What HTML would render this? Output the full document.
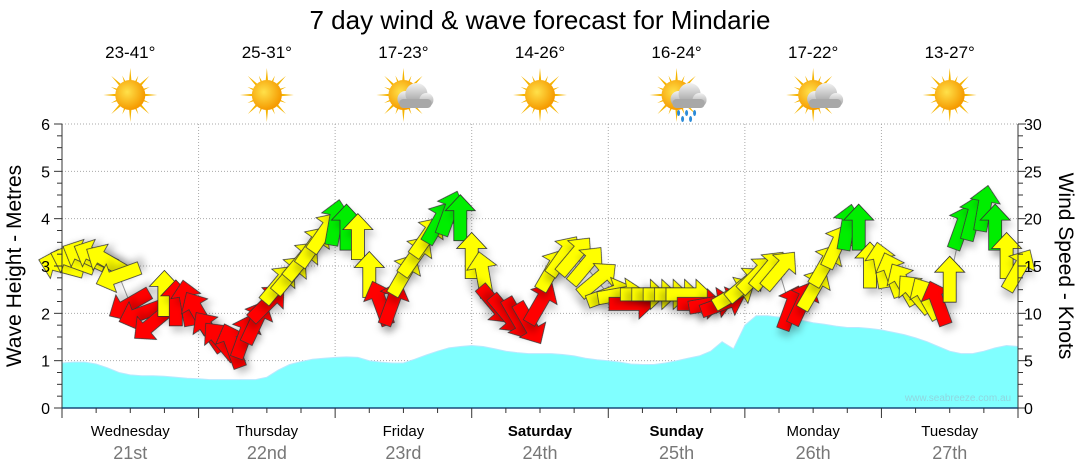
<!DOCTYPE html>
<html><head><meta charset="utf-8"><style>
html,body{margin:0;padding:0;background:#fff;}
svg{display:block;font-family:"Liberation Sans",sans-serif;}
</style></head><body>
<svg id="chart" width="1080" height="475" viewBox="0 0 1080 475">
<defs>
<filter id="sh" x="-50%" y="-50%" width="200%" height="200%"><feDropShadow dx="3" dy="6" stdDeviation="3.5" flood-color="#000" flood-opacity="0.2"/></filter>
<radialGradient id="sun" cx="40%" cy="40%" r="60%"><stop offset="0" stop-color="#ffe14a"/><stop offset="1" stop-color="#f59a00"/></radialGradient>
<linearGradient id="cl" x1="0" y1="0" x2="0" y2="1"><stop offset="0" stop-color="#f2f2f2"/><stop offset="1" stop-color="#9a9a9a"/></linearGradient>
</defs>
<text x="540" y="29" font-size="26" text-anchor="middle" fill="#000">7 day wind &amp; wave forecast for Mindarie</text>
<g id="hdr"></g>
<g id="grid"></g>
<g id="wave"></g>
<g id="wind"></g>
<g id="axes"></g>
<text x="958" y="401" font-size="10" fill="#8fd6df" text-anchor="middle">www.seabreeze.com.au</text>
<text transform="translate(21,266) rotate(-90)" font-size="21" text-anchor="middle">Wave Height - Metres</text>
<text transform="translate(1059,266) rotate(90)" font-size="21" text-anchor="middle">Wind Speed - Knots</text>
</svg>
<script>
const days=["Wednesday","Thursday","Friday","Saturday","Sunday","Monday","Tuesday"];
const dates=["21st","22nd","23rd","24th","25th","26th","27th"];
const temps=["23-41°","25-31°","17-23°","14-26°","16-24°","17-22°","13-27°"];
const icons=["sun","sun","cloud","sun","rain","cloud","sun"];
const leftTicks=[0,1,2,3,4,5,6];
const rightTicks=[0,5,10,15,20,25,30];
const windKnots=[15,15.5,16,16,15.5,14,11,10,9,12,11,11,
 10,8,7,6.5,7.5,9,11,13,14,15.5,17,18.5,
 19.5,19,18,14,11,11,14,16,18,19.5,20.5,20,
 16,14,11,10,9.5,9,11,14.5,16,16,15,13.5,
 12,12,11,12,12,12,12,12,11,11,11,12,
 13,14,14.5,14.5,10.5,11,12.5,15,17,19,19,15,
 15,14,13,12,11.5,11,13.5,19,20,21,19,16,14.5];
const windDir=[-75,-70,-65,-65,-60,-110,-120,-110,-130,0,0,-10,
 -30,-35,-40,-20,20,25,45,40,40,40,35,35,
 10,0,0,0,-20,20,30,35,35,30,20,0,
 0,-10,140,140,150,150,30,30,35,40,40,50,
 70,80,90,90,90,90,90,90,90,80,70,60,
 50,45,40,40,20,25,30,30,25,10,0,0,
 -10,-20,-30,-40,-30,-20,0,20,15,10,0,0,30];
const waveM=[.95,.97,.97,.93,.85,.75,.7,.68,.68,.67,.65,.63,
 .62,.6,.6,.6,.6,.6,.65,.8,.92,.98,1.03,1.05,
 1.07,1.08,1.07,1.0,.97,.95,.95,1.03,1.12,1.2,1.27,1.3,
 1.32,1.3,1.25,1.2,1.17,1.15,1.15,1.15,1.13,1.1,1.05,1.02,
 1.0,.97,.93,.92,.92,.95,1.0,1.05,1.1,1.2,1.4,1.25,
 1.75,1.95,1.95,1.92,1.88,1.85,1.8,1.77,1.73,1.7,1.7,1.68,
 1.65,1.6,1.55,1.48,1.4,1.3,1.2,1.15,1.15,1.2,1.27,1.32,1.3];

const NS="http://www.w3.org/2000/svg";
const X0=62,X1=1018,Y0=408,YT=124;
const xOf=i=>X0+(X1-X0)*i/(waveM.length-1);
const xW=i=>X0+(X1-X0)*i/(windKnots.length-1);
const yM=m=>Y0-(Y0-YT)*m/6;
const yK=k=>Y0-(Y0-YT)*k/30;
const dayW=(X1-X0)/7;
function mk(tag,attrs,parent){const e=document.createElementNS(NS,tag);for(const k in attrs)e.setAttribute(k,attrs[k]);parent.appendChild(e);return e;}
const G=id=>document.getElementById(id);

const grid=G('grid');
leftTicks.forEach(t=>{if(t>0){const l=mk('line',{x1:X0,x2:X1,y1:yM(t),y2:yM(t),stroke:'#aaa','stroke-dasharray':'1,2'},grid);

}});
for(let d=1;d<7;d++){const l=mk('line',{x1:X0+d*dayW,x2:X0+d*dayW,y1:YT,y2:Y0,stroke:'#aaa','stroke-dasharray':'1,2'},grid);

}

let d='M'+X0+','+Y0;
waveM.forEach((m,i)=>{d+=' L'+xOf(i).toFixed(1)+','+yM(m).toFixed(1);});
d+=' L'+X1+','+Y0+' Z';
const wa=mk('path',{d:d,fill:'#80ffff',stroke:'#b8e8ff','stroke-width':1},G('wave'));



const wind=G('wind');
let ld='';windKnots.forEach((k,i)=>{ld+=(i?' L':'M')+xW(i).toFixed(1)+','+yK(k).toFixed(1);});
const wl=mk('path',{d:ld,fill:'none',stroke:'#999','stroke-width':1},wind);


const arrowPath='M0,-24 L15,-8 L6.5,-8 L6.5,22 L-6.5,22 L-6.5,-8 L-15,-8 Z';
windKnots.forEach((k,i)=>{
  const col=k<11.5?'#ff0000':(k<19?'#ffff00':'#00ee00');
  const a=mk('path',{d:arrowPath,fill:col,stroke:'#333','stroke-width':0.8,filter:'url(#sh)',
    transform:'translate('+xW(i).toFixed(1)+','+yK(k).toFixed(1)+') rotate('+windDir[i]+')'},wind);
  
  
});

const ax=G('axes');
mk('line',{x1:X0,x2:X0,y1:YT,y2:Y0,stroke:'#333'},ax);
mk('line',{x1:X1,x2:X1,y1:YT,y2:Y0,stroke:'#333'},ax);
mk('line',{x1:X0,x2:X1,y1:Y0,y2:Y0,stroke:'#1a4a7a','stroke-width':1.5},ax);
for(let m=0;m<=6.001;m+=0.25){const y=yM(m);const major=Math.abs(m-Math.round(m))<.01;
  mk('line',{x1:X0-(major?8:5),x2:X0,y1:y,y2:y,stroke:'#333'},ax);}
leftTicks.forEach(t=>{const e=mk('text',{x:50,y:yM(t)+6,'font-size':16,'text-anchor':'end'},ax);e.textContent=t;

});
for(let k=0;k<=30;k+=1.25){const y=yK(k);const major=k%5===0;
  mk('line',{x1:X1,x2:X1+(major?8:5),y1:y,y2:y,stroke:'#333'},ax);}
rightTicks.forEach(t=>{const e=mk('text',{x:1024,y:yK(t)+6,'font-size':16},ax);e.textContent=t;

});
for(let j=0;j<=28;j++){const x=X0+j*dayW/4;mk('line',{x1:x,x2:x,y1:Y0,y2:Y0+(j%4===0?10:5),stroke:'#333'},ax);}

const hdr=G('hdr');
days.forEach((dn,i)=>{
  const cx=X0+dayW*(i+0.5);
  const t=mk('text',{x:cx,y:436,'font-size':15,'text-anchor':'middle','font-weight':(i===3||i===4)?'bold':'normal'},ax);t.textContent=dn;
  
  
  const dt=mk('text',{x:cx,y:459,'font-size':18,'text-anchor':'middle',fill:'#777'},ax);dt.textContent=dates[i];
  
  
  const tp=mk('text',{x:cx,y:58,'font-size':17,'text-anchor':'middle'},hdr);tp.textContent=temps[i];
  
  
  const g=mk('g',{transform:'translate('+cx+',95)'},hdr);
  
  
  for(let r=0;r<16;r++){const ang=r*22.5;const L=r%2?21:27;
    mk('path',{d:'M-2.5,0 L0,-'+L+' L2.5,0 Z',fill:'#f5b400',transform:'rotate('+ang+')'},g);}
  mk('circle',{r:15,fill:'url(#sun)'},g);
  if(icons[i]!=='sun'){
    const c=mk('g',{transform:'translate(10,2)'},g);
    mk('circle',{cx:-8,cy:2,r:8,fill:'url(#cl)'},c);
    mk('circle',{cx:3,cy:-3,r:11,fill:'url(#cl)'},c);
    mk('circle',{cx:13,cy:3,r:7,fill:'url(#cl)'},c);
    mk('rect',{x:-14,y:2,width:32,height:9,rx:4,fill:'#a8a8a8'},c);
    if(icons[i]==='rain'){[-8,0,8,-4,4].forEach((dx,q)=>mk('ellipse',{cx:dx,cy:16+(q>2?6:0),rx:1.5,ry:3,fill:'#2a8ad8'},c));}
  }
});
</script>
</body></html>
